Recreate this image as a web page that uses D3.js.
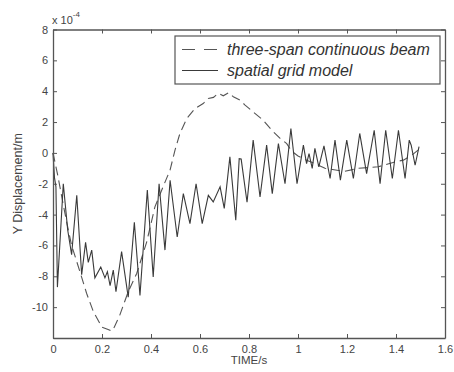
<!DOCTYPE html>
<html>
<head>
<meta charset="utf-8">
<script src="https://cdn.jsdelivr.net/npm/d3@7"></script>
<style>
  body { margin: 0; background: #fff; }
  svg { font-family: "Liberation Sans", Arial, sans-serif; }
</style>
</head>
<body>
<figure id="chart" style="margin:0"></figure>
<script>
// series (time in s, displacement in 1e-4 m)
const gridTime = [0, 0.006, 0.012, 0.018, 0.042, 0.06, 0.076, 0.097, 0.117, 0.133, 0.144, 0.158, 0.171, 0.195,
  0.212, 0.222, 0.233, 0.246, 0.257, 0.28, 0.307, 0.332, 0.355, 0.385, 0.409, 0.433, 0.457, 0.478, 0.507,
  0.532, 0.559, 0.584, 0.609, 0.634, 0.654, 0.682, 0.699, 0.722, 0.746, 0.76, 0.768, 0.792, 0.817, 0.845,
  0.872, 0.895, 0.92, 0.947, 0.971, 0.996, 1.022, 1.035, 1.045, 1.058, 1.069, 1.085, 1.106, 1.131, 1.151,
  1.173, 1.199, 1.226, 1.252, 1.28, 1.311, 1.335, 1.358, 1.385, 1.41, 1.437, 1.454, 1.462, 1.478, 1.494];
const gridValues = [0, -1.6, -2.2, -8.7, -2.0, -5.0, -6.6, -2.75, -7.9, -5.8, -7.1, -6.3, -8.1, -7.4,
  -8.1, -7.7, -8.6, -7.6, -9.0, -6.4, -9.35, -4.5, -9.25, -2.4, -8.05, -2.0, -6.3, -1.77, -5.45,
  -2.64, -4.58, -2.0, -4.58, -2.75, -3.18, -2.2, -3.6, -0.26, -4.37, -0.37, -0.4, -3.2, 0.83, -2.86,
  0.5, -2.64, 0.6, -2.0, 1.58, -2.0, 0.5, -0.69, -0.04, -1.0, 0.29, -0.9, 0.45, -1.66, 0.83,
  -1.77, 0.83, -1.66, 1.26, -1.34, 1.47, -2.0, 1.47, -1.66, 1.47, -1.66, 0.83, 0.5, -0.8, 0.4];

const beamTime = [0, 0.02, 0.04, 0.056, 0.076, 0.11, 0.137, 0.165, 0.2, 0.225, 0.24, 0.25, 0.273, 0.307,
  0.342, 0.382, 0.416, 0.444, 0.478, 0.498, 0.518, 0.546, 0.58, 0.613, 0.634, 0.655, 0.675, 0.695, 0.716,
  0.736, 0.763, 0.784, 0.824, 0.858, 0.893, 0.927, 0.954, 0.975, 1.0, 1.035, 1.056, 1.11, 1.19, 1.246,
  1.328, 1.396, 1.43, 1.464, 1.49];
const beamValues = [0, -1.5, -3.2, -4.5, -6.0, -7.7, -9.1, -10.3, -11.3, -11.45, -11.55, -11.3, -10.5, -9.0,
  -7.8, -5.8, -3.5, -2.4, -1.1, 0.18, 1.26, 2.23, 2.88, 3.2, 3.53, 3.6, 3.86, 3.7, 3.9,
  3.64, 3.42, 3.1, 2.56, 2.12, 1.47, 0.94, 0.6, 0.1, -0.2, -0.47, -0.6, -1.0, -1.2, -1.0,
  -0.9, -0.58, -0.47, -0.15, 0.18];

const xTicks = [0, 0.2, 0.4, 0.6, 0.8, 1, 1.2, 1.4, 1.6];
const yTicks = [-12, -10, -8, -6, -4, -2, 0, 2, 4, 6, 8];
const seriesNames = ["three-span continuous beam", "spatial grid model"];

const width = 454, height = 372;
const plotLeft = 53, plotRight = 445, plotTop = 29.5, plotBottom = 338;
const axisColor = "#555";

const svg = d3.select("figure#chart")
  .append("svg")
  .attr("width", width)
  .attr("height", height);

const x = d3.scaleLinear().domain([0, 1.6]).range([plotLeft, plotRight]);
const y = d3.scaleLinear().domain([-12, 8]).range([plotBottom, plotTop]);

// data lines
const line = d3.line().x(d => x(d[0])).y(d => y(d[1]));

svg.append("path")
  .datum(d3.zip(beamTime, beamValues))
  .attr("d", line)
  .attr("fill", "none")
  .attr("stroke", "#555")
  .attr("stroke-width", 1.1)
  .attr("stroke-dasharray", "9,5");

svg.append("path")
  .datum(d3.zip(gridTime, gridValues))
  .attr("d", line)
  .attr("fill", "none")
  .attr("stroke", "#3a3a3a")
  .attr("stroke-width", 1.1);

// axes with inward ticks on all four sides
const styleAxis = g => {
  g.attr("font-family", null);
  g.select(".domain").attr("stroke", axisColor).attr("stroke-width", 1.3);
  g.selectAll(".tick line").attr("stroke", axisColor);
  g.selectAll(".tick text").attr("fill", "#444").style("font-size", "11px");
};

svg.append("g")
  .attr("transform", "translate(0," + plotBottom + ")")
  .call(d3.axisBottom(x).tickValues(xTicks).tickFormat(d3.format("~g")).tickSizeInner(-4).tickSizeOuter(0).tickPadding(7))
  .call(styleAxis);

svg.append("g")
  .attr("transform", "translate(0," + plotTop + ")")
  .call(d3.axisTop(x).tickValues(xTicks).tickFormat("").tickSizeInner(-4).tickSizeOuter(0))
  .call(styleAxis);

svg.append("g")
  .attr("transform", "translate(" + plotLeft + ",0)")
  .call(d3.axisLeft(y).tickValues(yTicks).tickFormat(d => d === -12 ? "" : d).tickSizeInner(-4).tickSizeOuter(0).tickPadding(5))
  .call(styleAxis);

svg.append("g")
  .attr("transform", "translate(" + plotRight + ",0)")
  .call(d3.axisRight(y).tickValues(yTicks).tickFormat("").tickSizeInner(-4).tickSizeOuter(0))
  .call(styleAxis);

// exponent note
const expo = svg.append("text")
  .attr("x", 52)
  .attr("y", 23.5)
  .attr("fill", "#444")
  .style("font-size", "11px");
expo.append("tspan").text("x 10");
expo.append("tspan").attr("dy", -7).style("font-size", "8px").text("-4");

// axis titles
svg.append("text")
  .attr("x", (plotLeft + plotRight) / 2)
  .attr("y", 364)
  .attr("text-anchor", "middle")
  .attr("fill", "#444")
  .style("font-size", "11.5px")
  .text("TIME/s");

svg.append("text")
  .attr("transform", "translate(22," + (plotTop + plotBottom) / 2 + ")rotate(-90)")
  .attr("text-anchor", "middle")
  .attr("fill", "#444")
  .style("font-size", "12.5px")
  .text("Y Displacement/m");

// legend
const legend = svg.append("g");
legend.append("rect")
  .attr("x", 175).attr("y", 36)
  .attr("width", 265).attr("height", 48)
  .attr("fill", "#fff")
  .attr("stroke", axisColor)
  .attr("stroke-width", 1.2);

seriesNames.forEach((name, i) => {
  const ly = 49.5 + i * 21;
  legend.append("line")
    .attr("x1", 182).attr("x2", 218)
    .attr("y1", ly).attr("y2", ly)
    .attr("stroke", i === 0 ? "#555" : "#3a3a3a")
    .attr("stroke-width", 1.1)
    .attr("stroke-dasharray", i === 0 ? "13,9" : null);
  legend.append("text")
    .attr("x", 227)
    .attr("y", ly + 5.5)
    .attr("fill", "#333")
    .style("font-size", "16px")
    .style("font-style", "italic")
    .text(name);
});
</script>
</body>
</html>
